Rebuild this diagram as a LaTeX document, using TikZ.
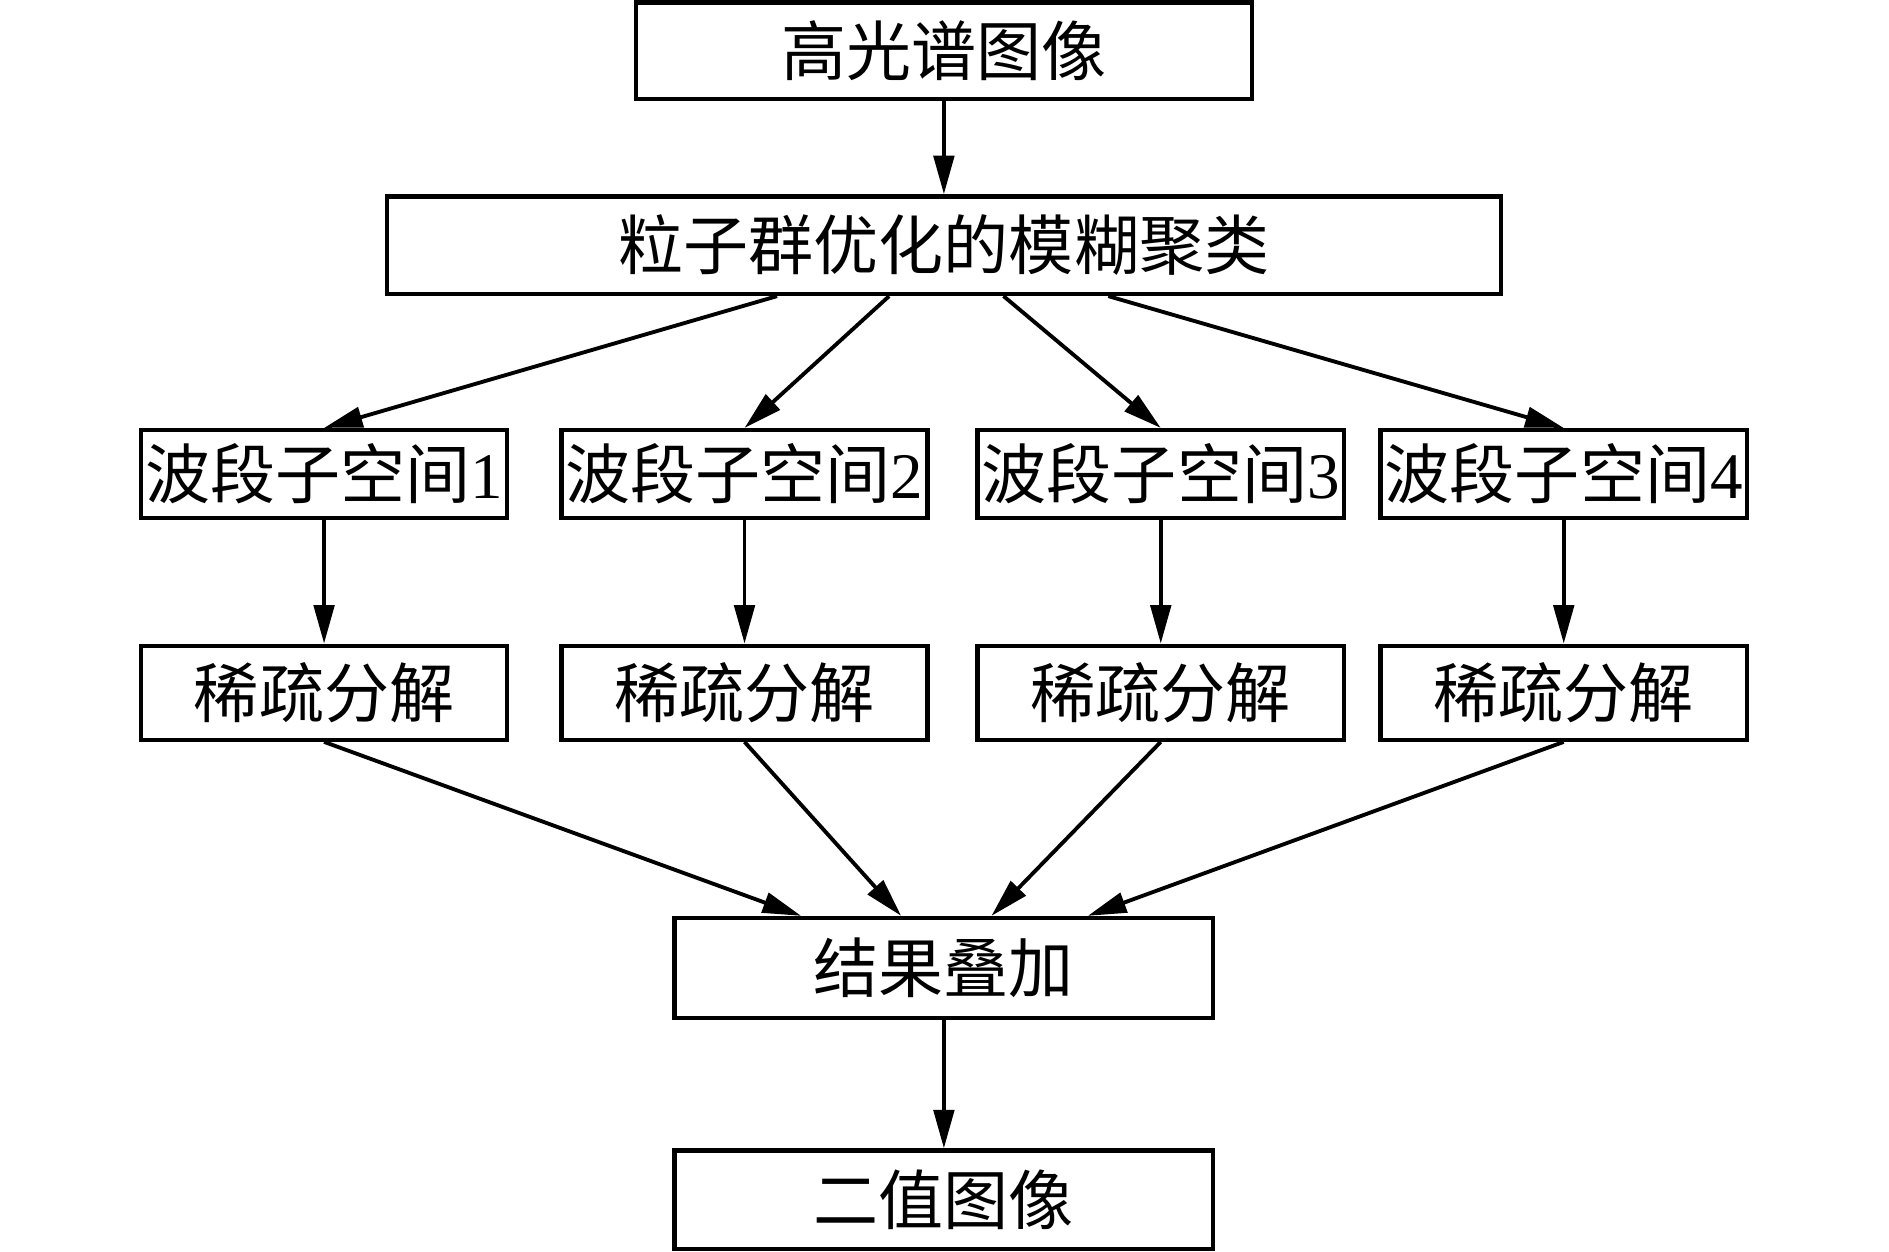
\documentclass[tikz,border=0pt]{standalone}
\usepackage{fontspec}
\setmainfont{Liberation Serif}
\newfontfamily\cjk{Noto Sans CJK SC}
\usetikzlibrary{arrows.meta}
\begin{document}
\begin{tikzpicture}[x=0.5pt,y=-0.5pt,
  box/.style={draw,line width=1.8pt,inner sep=0pt,font=\fontsize{27pt}{30pt}\selectfont},
  arr/.style={line width=1.6pt,-{Triangle[length=16pt,width=8.5pt]}}]
\useasboundingbox (0,0) rectangle (1568,1039);
\node[box,minimum width=255.5pt,minimum height=40pt] (A) at (783.5,42) {\cjk 高光谱图像};
\node[box,minimum width=462.5pt,minimum height=40.5pt] (B) at (783.5,203.5) {\cjk 粒子群优化的模糊聚类};
\foreach \n/\x in {1/269,2/618,3/963.5,4/1298}{
  \node[box,minimum width=152pt,minimum height=36.5pt] (b\n) at (\x,393.5) {{\cjk 波段子空间}\n};
  \node[box,minimum width=152pt,minimum height=39pt] (s\n) at (\x,575) {\cjk 稀疏分解};
}
\node[box,minimum width=223.5pt,minimum height=41.5pt] (R) at (783.5,803.5) {\cjk 结果叠加};
\node[box,minimum width=223.5pt,minimum height=41pt] (E) at (783.5,996) {\cjk 二值图像};
\draw[arr] (A) -- (B);
\draw[arr] ([xshift=-69.25pt]B.south) -- (b1.north);
\draw[arr] ([xshift=-22.75pt]B.south) -- (b2.north);
\draw[arr] ([xshift=24.75pt]B.south) -- (b3.north);
\draw[arr] ([xshift=68.25pt]B.south) -- (b4.north);
\foreach \n in {1,2,3,4}{\draw[arr] (b\n) -- (s\n);}
\draw[arr] (s1.south) -- ([xshift=-59.25pt]R.north);
\draw[arr] (s2.south) -- ([xshift=-17.75pt]R.north);
\draw[arr] (s3.south) -- ([xshift=19.75pt]R.north);
\draw[arr] (s4.south) -- ([xshift=59.75pt]R.north);
\draw[arr] (R) -- (E);
\end{tikzpicture}
\end{document}
